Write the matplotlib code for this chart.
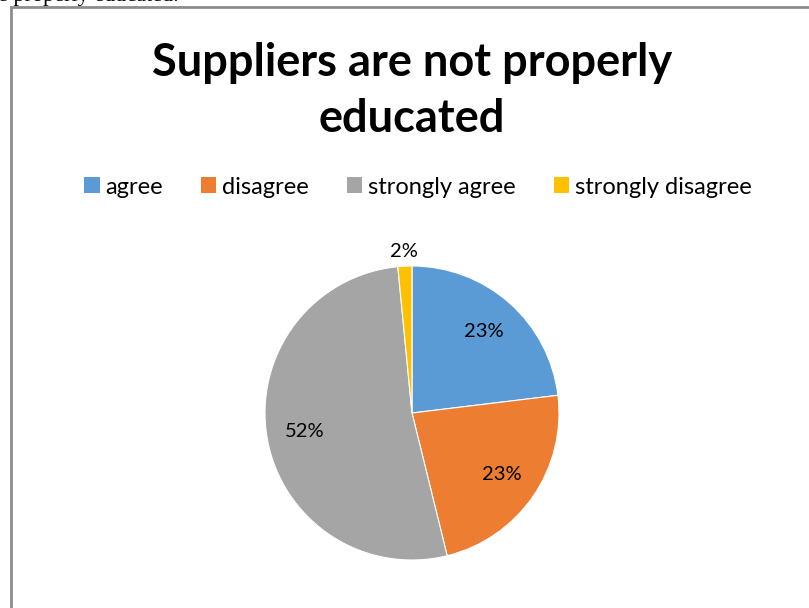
import numpy as np
import matplotlib.pyplot as plt
from matplotlib.patches import Patch, Rectangle

categories = ['agree', 'disagree', 'strongly agree', 'strongly disagree']
counts = [15, 15, 34, 1]
colors = ['#5B9BD5', '#ED7D31', '#A5A5A5', '#FFC000']
title = 'Suppliers are not properly\neducated'

W, H = 809, 608
fig = plt.figure(figsize=(W / 100, H / 100), dpi=100)

# frame of the embedded chart (cut off at right and bottom)
fig.patches.append(Rectangle((11 / W, -0.1), 2, (H - 7) / H + 0.1, transform=fig.transFigure,
                             fill=False, edgecolor='#8c8c8c', linewidth=2))
# clipped document text above the chart
fig.text(-2 / W, 1 + 3 / H, 'e properly educated.', family='Liberation Serif', fontsize=16,
         ha='left', va='center', color='black')

fig.text(412 / W, 1 - 91 / H, title, ha='center', va='center', fontsize=32.5,
         fontweight='bold', family='Lato', linespacing=1.42)

cx, cy, r = 412, 413, 147
ax = fig.add_axes([(cx - r) / W, (H - cy - r) / H, 2 * r / W, 2 * r / H])
total = sum(counts)
wedges, texts = ax.pie(counts, colors=colors, startangle=90, counterclock=False,
                       wedgeprops=dict(edgecolor='white', linewidth=0.8))
for w, c in zip(wedges, counts):
    ang = np.deg2rad((w.theta1 + w.theta2) / 2)
    pct = '%d%%' % round(100 * c / total)
    d = 1.1 if c / total < 0.05 else 0.74
    ax.text(d * np.cos(ang), d * np.sin(ang), pct, ha='center', va='center',
            fontsize=14.5, family='Lato')
ax.set_aspect('equal')
ax.set_xlim(-1, 1)
ax.set_ylim(-1, 1)

handles = [Patch(facecolor=c, label=l) for c, l in zip(colors, categories)]
fig.legend(handles=handles, loc='center', bbox_to_anchor=(418 / W, 1 - 187 / H), ncol=4,
           frameon=False, prop=dict(family='Lato', size=17), handlelength=0.65,
           handleheight=0.65, handletextpad=0.25, columnspacing=1.6)

fig.savefig('out.png', dpi=100)
